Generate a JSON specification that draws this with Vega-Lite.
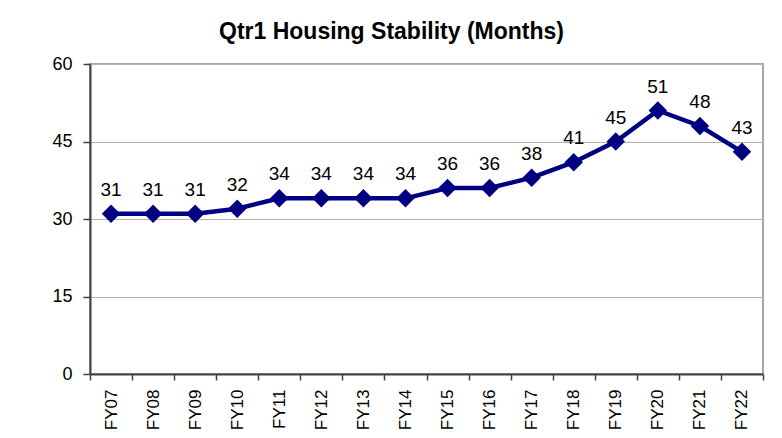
{
  "$schema": "https://vega.github.io/schema/vega-lite/v6.json",
  "autosize": "none",
  "width": 673,
  "height": 310,
  "padding": {"left": 90, "top": 64, "right": 19, "bottom": 64},
  "background": "white",
  "title": {
    "text": "Qtr1 Housing Stability (Months)",
    "font": "Liberation Sans",
    "fontSize": 23,
    "fontWeight": "bold",
    "color": "#000000",
    "anchor": "middle",
    "baseline": "alphabetic",
    "offset": -7,
    "dx": -35
  },
  "config": {
    "view": {"stroke": "#a6a6a6", "strokeWidth": 2},
    "axis": {
      "labelFont": "Liberation Sans",
      "labelColor": "#000000",
      "titleFont": "Liberation Sans"
    }
  },
  "data": {
    "values": [
      {"year": "FY07", "months": 31},
      {"year": "FY08", "months": 31},
      {"year": "FY09", "months": 31},
      {"year": "FY10", "months": 32},
      {"year": "FY11", "months": 34},
      {"year": "FY12", "months": 34},
      {"year": "FY13", "months": 34},
      {"year": "FY14", "months": 34},
      {"year": "FY15", "months": 36},
      {"year": "FY16", "months": 36},
      {"year": "FY17", "months": 38},
      {"year": "FY18", "months": 41},
      {"year": "FY19", "months": 45},
      {"year": "FY20", "months": 51},
      {"year": "FY21", "months": 48},
      {"year": "FY22", "months": 43}
    ]
  },
  "encoding": {
    "x": {
      "field": "year",
      "type": "ordinal",
      "sort": null,
      "scale": {"type": "band", "paddingInner": 0, "paddingOuter": 0},
      "axis": {
        "title": null,
        "labelAngle": -90,
        "labelAlign": "right",
        "labelBaseline": "middle",
        "labelFontSize": 17,
        "labelPadding": 9,
        "tickBand": "extent",
        "tickSize": 6,
        "tickColor": "#404040",
        "tickWidth": 1.5,
        "domainColor": "#404040",
        "domainWidth": 2,
        "grid": false
      }
    },
    "y": {
      "field": "months",
      "type": "quantitative",
      "scale": {"domain": [0, 60], "nice": false},
      "axis": {
        "title": null,
        "values": [0, 15, 30, 45, 60],
        "labelFontSize": 18,
        "labelPadding": 11,
        "tickSize": 7,
        "tickColor": "#404040",
        "tickWidth": 1.5,
        "domainColor": "#404040",
        "domainWidth": 2,
        "grid": true,
        "gridColor": "#b3b3b3",
        "gridWidth": 1
      }
    }
  },
  "layer": [
    {
      "mark": {"type": "line", "color": "#000080", "strokeWidth": 4.5}
    },
    {
      "mark": {"type": "point", "shape": "diamond", "size": 340, "filled": true, "color": "#000080", "opacity": 1}
    },
    {
      "mark": {"type": "text", "font": "Liberation Sans", "fontSize": 19, "color": "#000000", "baseline": "alphabetic", "dy": -18},
      "encoding": {"text": {"field": "months", "type": "quantitative"}}
    }
  ]
}
